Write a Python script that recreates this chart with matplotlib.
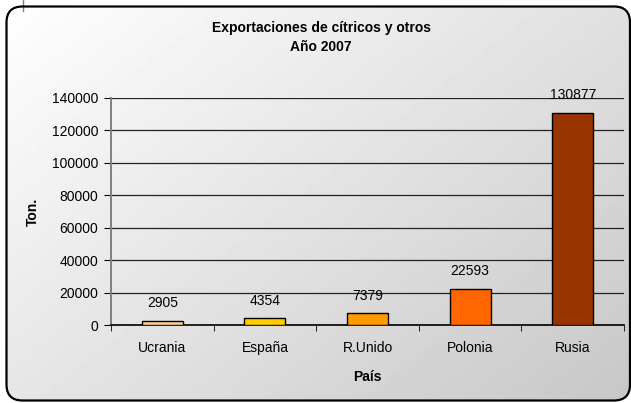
import numpy as np
import matplotlib
matplotlib.use("Agg")
import matplotlib.pyplot as plt
from matplotlib.patches import FancyBboxPatch

plt.rcParams["font.family"] = ["Liberation Sans", "DejaVu Sans"]

paises = ["Ucrania", "España", "R.Unido", "Polonia", "Rusia"]
toneladas = [2905, 4354, 7379, 22593, 130877]
colores = ["#FFCC99", "#FFCC00", "#FF9900", "#FF6600", "#993300"]
yticks = [0, 20000, 40000, 60000, 80000, 100000, 120000, 140000]

W, H = 631, 403
fig = plt.figure(figsize=(W / 100, H / 100), dpi=100)

# fondo degradado dentro del marco redondeado
bg = fig.add_axes([0, 0, 1, 1], zorder=-10)
bg.set_xlim(0, W); bg.set_ylim(H, 0); bg.axis("off")
xx, yy = np.meshgrid(np.linspace(0, 1, 200), np.linspace(0, 1, 130))
g = (xx * 0.55 + yy * 0.45)
grad = 1.0 - 0.22 * g
frame = FancyBboxPatch((6.5, 6.5), 623.5, 394, boxstyle="round,pad=0,rounding_size=16",
                       fc="none", ec="black", lw=1.6, zorder=3)
bg.add_patch(frame)
im = bg.imshow(grad, cmap="gray", vmin=0, vmax=1, extent=(0, W, H, 0), aspect="auto", zorder=1)
im.set_clip_path(frame)
bg.plot([22.5, 22.5], [0, 11], color="#808080", lw=1)

ax = fig.add_axes([111 / W, 1 - 325.3 / H, (624 - 111) / W, (325.3 - 97.7) / H])
ax.patch.set_alpha(0)

FS = 10
x = np.arange(len(paises))
bars = ax.bar(x, toneladas, width=0.4, color=colores, edgecolor="black", lw=1, zorder=3)
for xi, v in zip(x, toneladas):
    ax.annotate(str(v), (xi, v), xytext=(0, 9.5), textcoords="offset points",
                ha="center", va="baseline", fontsize=FS, zorder=4)

ax.set_xlim(-0.5, len(paises) - 0.5)
ax.set_ylim(0, 140000)
ax.set_yticks(yticks)
ax.set_yticklabels([str(t) for t in yticks], fontsize=FS)
ax.yaxis.grid(True, color="#222222", lw=0.9, zorder=0)
ax.set_axisbelow(True)

ax.set_xticks(x)
ax.set_xticklabels(paises, fontsize=FS)
ax.tick_params(axis="x", length=0, pad=11)
ax.set_xticks(np.arange(len(paises) + 1) - 0.5, minor=True)
ax.tick_params(axis="x", which="minor", length=4, color="black", direction="out")
ax.tick_params(axis="y", length=5, color="black", pad=4)

for s in ["top", "right"]:
    ax.spines[s].set_visible(False)
ax.spines["left"].set_color("#808080")
ax.spines["left"].set_linewidth(1.4)
ax.spines["bottom"].set_color("black")
ax.spines["bottom"].set_linewidth(1.2)

ax.set_xlabel("País", fontsize=FS, fontweight="bold", labelpad=11)
ax.set_ylabel("Ton.", fontsize=FS, fontweight="bold", labelpad=9)

fig.text(321 / W, 1 - 37.5 / H, "Exportaciones de cítricos y otros\nAño 2007",
         ha="center", va="center", fontsize=10, fontweight="bold", linespacing=1.4)

fig.savefig("out.png", dpi=100)
